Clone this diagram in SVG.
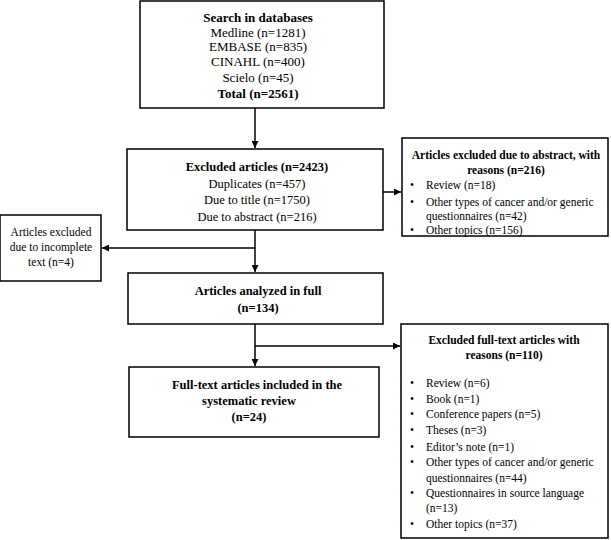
<svg xmlns="http://www.w3.org/2000/svg" width="611" height="540" viewBox="0 0 611 540">
<style>
rect.box{fill:#fff;stroke:#000;stroke-width:1.5}
text{font-family:"Liberation Serif","Times New Roman",serif;font-size:13px;fill:#000}
.m text{font-size:12.5px}
.s text{font-size:11.5px}
.b{font-weight:bold}
.c{text-anchor:middle}
.ln{stroke:#000;stroke-width:1.5;fill:none}
</style>
<defs>
<marker id="ah" viewBox="0 0 10 10" refX="10" refY="5" markerWidth="7" markerHeight="7" markerUnits="userSpaceOnUse" orient="auto">
<path d="M0,0 L10,5 L0,10 z" fill="#000"/>
</marker>
</defs>
<rect width="611" height="540" fill="#fff"/>
<g id="connectors">
<line class="ln" x1="255" y1="108" x2="255" y2="148" marker-end="url(#ah)"/>
<line class="ln" x1="383" y1="192" x2="401" y2="192" marker-end="url(#ah)"/>
<line class="ln" x1="255" y1="230" x2="255" y2="272" marker-end="url(#ah)"/>
<line class="ln" x1="255" y1="248" x2="102" y2="248" marker-end="url(#ah)"/>
<line class="ln" x1="255" y1="324" x2="255" y2="366" marker-end="url(#ah)"/>
<line class="ln" x1="255" y1="346" x2="400" y2="346" marker-end="url(#ah)"/>
</g>
<g id="search">
<rect class="box" x="140" y="1" width="244" height="107"/>
<text class="c b" x="258" y="21.5">Search in databases</text>
<text class="c" x="258" y="36.5">Medline (n=1281)</text>
<text class="c" x="258" y="50.5">EMBASE (n=835)</text>
<text class="c" x="258" y="65.5">CINAHL (n=400)</text>
<text class="c" x="258" y="81.5">Scielo (n=45)</text>
<text class="c b" x="258" y="97.5">Total (n=2561)</text>
</g>
<g id="excluded" class="m">
<rect class="box" x="127" y="149" width="256" height="81"/>
<text class="c b" x="257" y="170.5">Excluded articles (n=2423)</text>
<text class="c" x="257" y="187.5">Duplicates (n=457)</text>
<text class="c" x="257" y="203.5">Due to title (n=1750)</text>
<text class="c" x="257" y="220.5">Due to abstract (n=216)</text>
</g>
<g id="abstract-reasons" class="s">
<rect class="box" x="402" y="138" width="206" height="98"/>
<text class="c b" x="506" y="159">Articles excluded due to abstract, with</text>
<text class="c b" x="506" y="174">reasons (n=216)</text>
<text x="410" y="189">•</text><text x="426" y="189">Review (n=18)</text>
<text x="410" y="205.5">•</text><text x="426" y="205.5">Other types of cancer and/or generic</text>
<text x="426" y="220">questionnaires (n=42)</text>
<text x="410" y="233.5">•</text><text x="426" y="233.5">Other topics (n=156)</text>
</g>
<g id="incomplete" class="s">
<rect class="box" x="0" y="215" width="101" height="66"/>
<text class="c" x="51" y="236">Articles excluded</text>
<text class="c" x="51" y="251">due to incomplete</text>
<text class="c" x="51" y="266">text (n=4)</text>
</g>
<g id="analyzed" class="m">
<rect class="box" x="128" y="273" width="255" height="51"/>
<text class="c b" x="258" y="294.5">Articles analyzed in full</text>
<text class="c b" x="258" y="311.5">(n=134)</text>
</g>
<g id="included" class="m">
<rect class="box" x="129" y="367" width="250" height="70"/>
<text class="c b" x="257" y="388.5">Full-text articles included in the</text>
<text class="c b" x="249" y="404.5">systematic review</text>
<text class="c b" x="249" y="420.5">(n=24)</text>
</g>
<g id="fulltext-reasons" class="s">
<rect class="box" x="401" y="324" width="207" height="214"/>
<text class="c b" x="504" y="344">Excluded full-text articles with</text>
<text class="c b" x="504" y="359">reasons (n=110)</text>
<text x="410" y="387">•</text><text x="426" y="387">Review (n=6)</text>
<text x="410" y="403">•</text><text x="426" y="403">Book (n=1)</text>
<text x="410" y="418">•</text><text x="426" y="418">Conference papers (n=5)</text>
<text x="410" y="434">•</text><text x="426" y="434">Theses (n=3)</text>
<text x="410" y="451">•</text><text x="426" y="451">Editor’s note (n=1)</text>
<text x="410" y="466">•</text><text x="426" y="466">Other types of cancer and/or generic</text>
<text x="426" y="482">questionnaires (n=44)</text>
<text x="410" y="497">•</text><text x="426" y="497">Questionnaires in source language</text>
<text x="426" y="512">(n=13)</text>
<text x="410" y="528">•</text><text x="426" y="528">Other topics (n=37)</text>
</g>
</svg>
